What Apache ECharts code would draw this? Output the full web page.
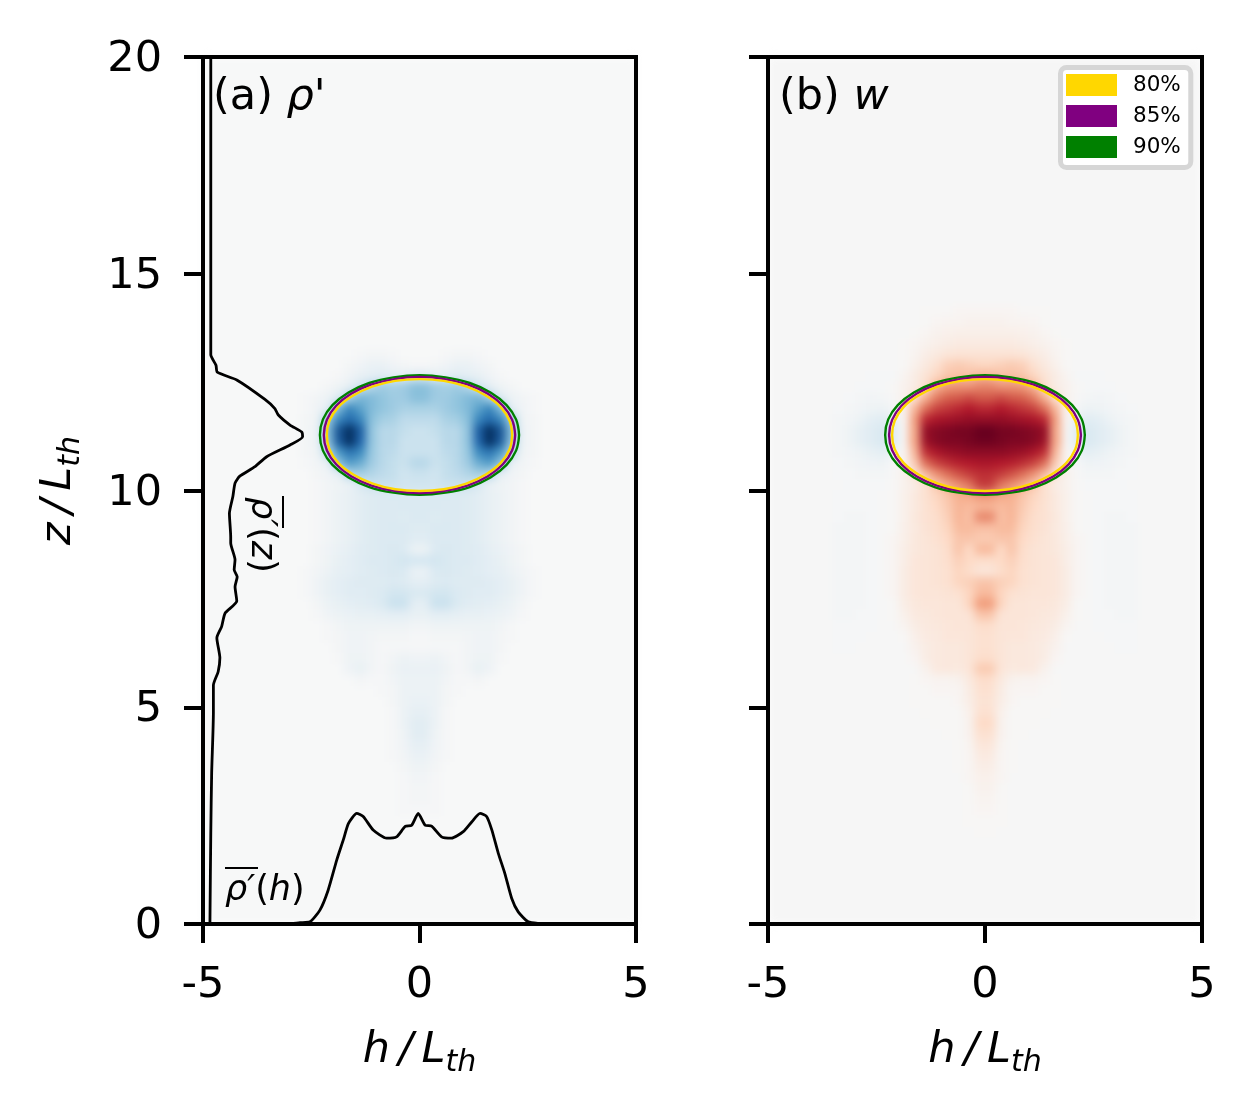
<!DOCTYPE html>
<html>
<head>
<meta charset="utf-8">
<style>html,body{margin:0;padding:0;background:#fff}#main{width:1256px;height:1114px}</style>
<script src="https://cdn.jsdelivr.net/npm/echarts@6/dist/echarts.min.js"></script>
</head>
<body>
<div id="main"></div>
<script>
var colH = [0.125,0.375,0.625,0.875,1.125,1.375,1.625,1.875,2.125,2.375,2.625,2.875,3.125,3.375];

// density: blue strength per row, right half of the plume
var rhoZ = [13.125,12.875,12.625,12.375,12.125,11.875,11.625,11.375,11.125,10.875,10.625,10.375,10.125,
  9.875,9.625,9.375,9.125,8.875,8.625,8.375,8.125,7.875,7.625,7.375,7.125,6.875,6.625,6.375,6.125,5.875,
  5.625,5.375,5.125,4.875,4.625,4.375,4.125,3.875,3.625,3.375,3.125,2.875,2.625];
var rhoRows = [
  [0,0,1,2,2,1,0,0,0,0,0],
  [1,2,4,7,7,4,2,0,0,0,0],
  [14,10,10,12,10,8,4,1,0,0,0],
  [42,36,34,36,30,20,10,5,2,0,0],
  [42,36,36,40,44,46,34,14,6,3,1],
  [32,32,36,40,44,54,66,46,10,4,1],
  [26,26,32,34,42,66,78,66,38,5,2],
  [22,24,28,28,40,82,100,86,44,6,2],
  [22,22,28,28,40,80,100,84,42,6,2],
  [22,22,26,28,38,64,74,58,30,5,2],
  [28,22,24,28,36,50,56,42,8,3,1],
  [22,20,24,26,30,34,30,9,4,2,0],
  [20,20,22,22,22,16,7,5,3,1,0],
  [15,15,15,14,13,11,8,6,3,1,0],
  [15,15,14,14,13,11,8,6,3,1,0],
  [15,13,14,14,13,11,8,6,3,1,0],
  [13,15,15,14,13,11,8,6,3,1,0],
  [12,14,14,14,13,11,8,6,3,1,0],
  [6,14,16,14,13,12,9,7,4,2,0],
  [18,19,16,14,14,12,10,8,5,2,0],
  [7,15,16,14,13,12,10,9,6,3,1],
  [10,13,14,13,13,13,12,10,8,4,1],
  [16,19,19,15,13,12,12,10,8,4,1],
  [10,22,22,15,12,11,10,8,6,2,0],
  [8,10,10,9,8,8,7,6,4,1,0],
  [3,5,5,5,5,5,5,3,1,0,0],
  [1,2,2,2,3,4,4,2,1,0,0],
  [1,1,1,1,3,4,4,2,0,0,0],
  [4,6,3,1,3,5,5,1,0,0,0],
  [7,7,5,1,3,8,4,0,0,0,0],
  [6,6,3,1,1,2,0,0,0,0,0],
  [6,6,2,1,0,0,0,0,0,0,0],
  [7,6,2,0,0,0,0,0,0,0,0],
  [9,6,1,0,0,0,0,0,0,0,0],
  [11,6,1,0,0,0,0,0,0,0,0],
  [11,5,1,0,0,0,0,0,0,0,0],
  [9,4,1,0,0,0,0,0,0,0,0],
  [7,3,1,0,0,0,0,0,0,0,0],
  [5,2,0,0,0,0,0,0,0,0,0],
  [3,1,0,0,0,0,0,0,0,0,0],
  [2,1,0,0,0,0,0,0,0,0,0],
  [2,1,0,0,0,0,0,0,0,0,0],
  [1,1,0,0,0,0,0,0,0,0,0]
];

// vertical velocity: red is up, blue is down
var wZ = [14.125,13.875,13.625,13.375,13.125,12.875,12.625,12.375,12.125,11.875,11.625,11.375,11.125,10.875,10.625,10.375,10.125,
  9.875,9.625,9.375,9.125,8.875,8.625,8.375,8.125,7.875,7.625,7.375,7.125,6.875,6.625,6.375,6.125,5.875,
  5.625,5.375,5.125,4.875,4.625,4.375,4.125,3.875,3.625,3.375,3.125,2.875,2.625,2.375,2.125];
var wRows = [
  [2,2,2,1,1,1,0,0,0,0,0,0,0,0],
  [4,4,3,3,2,1,0,0,0,0,0,0,0,0],
  [6,6,6,5,4,2,1,0,0,0,0,0,0,0],
  [9,9,9,8,6,4,2,1,0,0,0,0,0,0],
  [14,14,14,13,10,7,3,1,0,0,0,0,0,0],
  [22,24,26,24,16,10,5,1,0,0,0,0,0,0],
  [34,30,30,28,22,14,8,3,-1,-1,-1,0,0,0],
  [50,46,46,44,36,18,8,4,1,-1,-1,-1,0,0],
  [62,66,62,60,52,36,16,4,0,-2,-3,-2,-1,0],
  [76,80,76,72,68,56,34,4,-2,-6,-5,-3,-2,-1],
  [88,88,86,84,82,76,42,3,-8,-12,-10,-6,-3,-2],
  [100,96,96,94,92,88,38,0,-12,-16,-12,-9,-5,-2],
  [98,96,94,94,92,86,38,0,-12,-16,-12,-9,-5,-2],
  [90,90,88,86,82,74,34,2,-6,-10,-8,-5,-3,-2],
  [82,80,78,74,68,56,26,3,-1,-5,-4,-3,-2,-1],
  [74,70,64,56,46,32,14,4,0,-2,-2,-2,-1,-1],
  [70,54,46,38,28,16,8,4,1,-1,-1,-1,-1,0],
  [44,38,36,28,22,16,10,5,1,0,-1,-1,-1,-1],
  [34,32,34,26,20,15,10,5,1,0,-1,-1,-1,-1],
  [48,30,34,24,18,15,11,5,1,0,-1,-2,-2,-1],
  [30,32,32,22,17,14,10,6,1,0,-1,-2,-2,-2],
  [26,28,28,20,16,13,11,6,2,0,-1,-2,-2,-2],
  [32,20,28,18,14,13,11,7,2,0,-1,-2,-2,-2],
  [18,20,24,17,14,13,12,7,2,0,-1,-2,-2,-2],
  [12,18,22,16,14,13,12,8,2,0,-1,-2,-2,-2],
  [28,24,22,16,14,13,12,8,2,0,-1,-2,-2,-2],
  [32,22,16,14,13,13,12,8,2,0,-1,-2,-2,-2],
  [42,22,13,13,12,12,11,7,1,0,-1,-2,-2,-2],
  [28,14,13,13,12,11,10,5,1,0,-1,-1,-2,-2],
  [18,13,13,12,11,10,8,3,0,0,-1,-1,-1,-1],
  [16,13,12,12,10,9,6,1,0,0,0,-1,-1,-1],
  [16,13,11,11,10,8,4,0,0,0,0,0,-1,-1],
  [18,13,11,11,10,8,2,0,0,0,0,0,0,0],
  [26,13,10,11,10,4,0,0,0,0,0,0,0,0],
  [18,10,4,3,3,2,1,0,0,0,0,0,0,0],
  [16,8,2,2,2,1,1,0,0,0,0,0,0,0],
  [14,7,2,1,1,1,1,0,0,0,0,0,0,0],
  [16,5,1,1,1,1,0,0,0,0,0,0,0,0],
  [20,4,1,1,1,0,0,0,0,0,0,0,0,0],
  [16,4,1,1,0,0,0,0,0,0,0,0,0,0],
  [12,3,1,0,0,0,0,0,0,0,0,0,0,0],
  [9,2,1,0,0,0,0,0,0,0,0,0,0,0],
  [7,2,1,0,0,0,0,0,0,0,0,0,0,0],
  [5,2,0,0,0,0,0,0,0,0,0,0,0,0],
  [4,1,0,0,0,0,0,0,0,0,0,0,0,0],
  [3,1,0,0,0,0,0,0,0,0,0,0,0,0],
  [2,1,0,0,0,0,0,0,0,0,0,0,0,0],
  [1,1,0,0,0,0,0,0,0,0,0,0,0,0],
  [1,0,0,0,0,0,0,0,0,0,0,0,0,0]
];

// profiles
var profileZ = [[-4.82,20],[-4.82,13.13],[-4.7,12.89],[-4.67,12.73],[-4.22,12.55],[-3.57,12.1],[-3.34,11.89],[-3.26,11.74],[-2.99,11.51],
  [-2.72,11.35],[-2.7,11.24],[-2.99,11.05],[-3.53,10.78],[-3.8,10.55],[-4.15,10.33],[-4.26,10.17],[-4.31,9.86],[-4.39,9.47],
  [-4.36,8.93],[-4.36,8.79],[-4.26,8.4],[-4.28,8.17],[-4.21,8.01],[-4.26,7.78],[-4.22,7.45],[-4.49,7.17],[-4.57,6.86],
  [-4.68,6.6],[-4.61,6.14],[-4.65,5.82],[-4.76,5.51],[-4.76,4.87],[-4.8,3.48],[-4.82,2.1],[-4.84,0]];
var profileH = [[-3,0],[-2.76,0.03],[-2.53,0.05],[-2.3,0.32],[-2.11,0.78],[-1.91,1.48],[-1.76,1.94],[-1.64,2.32],[-1.45,2.55],[-1.3,2.48],
  [-1.07,2.17],[-0.76,1.98],[-0.53,2.01],[-0.33,2.25],[-0.18,2.28],[-0.03,2.55],[0.13,2.28],[0.28,2.26],[0.51,2.01],[0.74,1.98],
  [1.01,2.13],[1.21,2.36],[1.4,2.55],[1.55,2.48],[1.67,2.17],[1.82,1.63],[1.97,1.17],[2.13,0.59],[2.28,0.28],[2.51,0.05],[2.76,0.01],[3,0]];

// bubble outlines, same in both panels
var contour90 = [[2.3,11.28],[2.23,11.64],[2.01,11.97],[1.64,12.26],[1.16,12.48],[0.6,12.61],[0,12.66],[-0.6,12.61],[-1.16,12.48],[-1.64,12.26],[-2.01,11.97],[-2.23,11.64],
  [-2.3,11.28],[-2.23,10.92],[-2.01,10.59],[-1.64,10.3],[-1.16,10.08],[-0.6,9.95],[0,9.9],[0.6,9.95],[1.16,10.08],[1.64,10.3],[2.01,10.59],[2.23,10.92],[2.3,11.28]];
var contour85 = [[2.21,11.28],[2.14,11.63],[1.93,11.95],[1.58,12.23],[1.12,12.44],[0.58,12.57],[0,12.62],[-0.58,12.57],[-1.12,12.44],[-1.58,12.23],[-1.93,11.95],[-2.14,11.63],
  [-2.21,11.28],[-2.14,10.93],[-1.93,10.61],[-1.58,10.33],[-1.12,10.12],[-0.58,9.99],[0,9.94],[0.58,9.99],[1.12,10.12],[1.58,10.33],[1.93,10.61],[2.14,10.93],[2.21,11.28]];
var contour80 = [[2.14,11.28],[2.08,11.61],[1.87,11.93],[1.53,12.19],[1.08,12.4],[0.56,12.53],[0,12.57],[-0.56,12.53],[-1.08,12.4],[-1.53,12.19],[-1.87,11.93],[-2.08,11.61],
  [-2.14,11.28],[-2.08,10.95],[-1.87,10.63],[-1.53,10.37],[-1.08,10.16],[-0.56,10.03],[0,9.99],[0.56,10.03],[1.08,10.16],[1.53,10.37],[1.87,10.63],[2.08,10.95],[2.14,11.28]];

var rdbu = ['#053061','#2166ac','#4393c3','#92c5de','#d1e5f0','#f7f7f7','#fddbc7','#f4a582','#d6604d','#b2182b','#67001f'];
var font = 'DejaVu Sans';

function cells(rows, zs, sign) {
  var out = [];
  rows.forEach(function (row, i) {
    row.forEach(function (v, j) {
      if (v === 0) return;
      out.push([colH[j], zs[i], sign * v]);
      out.push([-colH[j], zs[i], sign * v]);
    });
  });
  return out;
}

function drawCell(params, api) {
  var c = api.coord([api.value(0), api.value(1)]);
  var s = api.size([0.25, 0.25]);
  return {
    type: 'rect',
    shape: {x: c[0] - s[0] / 2 - 0.5, y: c[1] - s[1] / 2 - 0.5, width: s[0] + 1, height: s[1] + 1},
    style: {fill: api.visual('color')}
  };
}

function field(data, idx) {
  return {type: 'custom', xAxisIndex: idx, yAxisIndex: idx, data: data, renderItem: drawCell,
    encode: {x: 0, y: 1}, silent: true, zlevel: 0, clip: true};
}

function outline(name, data, color, idx) {
  return {type: 'line', name: name, xAxisIndex: idx, yAxisIndex: idx, data: data, smooth: 0.4, showSymbol: false, symbol: 'none',
    lineStyle: {color: color, width: 2.4}, itemStyle: {color: color}, silent: true, zlevel: 1};
}

function profile(data) {
  return {type: 'line', xAxisIndex: 0, yAxisIndex: 0, data: data, smooth: 0.2, showSymbol: false, symbol: 'none',
    lineStyle: {color: '#000', width: 2.8}, silent: true, zlevel: 1, clip: true};
}

var thName = {
  i: {fontFamily: font, fontStyle: 'italic', fontSize: 43, color: '#000'},
  s: {fontFamily: font, fontStyle: 'italic', fontSize: 30, color: '#000', padding: [24, 0, 0, 0]}
};

function xAxis(idx) {
  return {type: 'value', gridIndex: idx, min: -5, max: 5, interval: 5, zlevel: 1,
    name: '{i|h\u2009/\u2009L}{s|th}', nameLocation: 'middle', nameGap: 100, nameTextStyle: {rich: thName},
    splitLine: {show: false},
    axisLine: {onZero: false, lineStyle: {color: '#000', width: 4}},
    axisTick: {length: 19, lineStyle: {color: '#000', width: 4}},
    axisLabel: {margin: 40, color: '#000', fontFamily: font, fontSize: 43, showMinLabel: true, showMaxLabel: true}};
}

function yAxis(idx) {
  var hasText = idx === 0;
  return {type: 'value', gridIndex: idx, min: 0, max: 20, interval: 5, zlevel: 1,
    name: hasText ? '{i|z\u2009/\u2009L}{s|th}' : '', nameLocation: 'middle', nameGap: 117, nameRotate: 90, nameTextStyle: {rich: thName},
    splitLine: {show: false},
    axisLine: {onZero: false, lineStyle: {color: '#000', width: 4}},
    axisTick: {length: 19, lineStyle: {color: '#000', width: 4}},
    axisLabel: {show: hasText, margin: 41, verticalAlign: 'top', lineHeight: 6, color: '#000', fontFamily: font, fontSize: 43, showMinLabel: true, showMaxLabel: true}};
}

var italic = {
  i: {fontFamily: font, fontStyle: 'italic', fontSize: 43, color: '#000'},
  n: {fontFamily: font, fontSize: 43, color: '#000'},
  si: {fontFamily: font, fontStyle: 'italic', fontSize: 35, color: '#000'},
  sn: {fontFamily: font, fontSize: 35, color: '#000'}
};

function note(x, y, text, rotation) {
  return {type: 'text', x: x, y: y, rotation: rotation || 0, zlevel: 1, silent: true,
    style: {text: text, rich: italic, verticalAlign: 'middle', align: 'left', fill: '#000'}};
}

function plotBg(x, color) {
  return {type: 'rect', zlevel: 0, z: -10, silent: true, shape: {x: x, y: 57, width: 433, height: 867}, style: {fill: color}};
}

var option = {
  animation: false,
  grid: [
    {left: 203, top: 57, width: 433, height: 867, show: true, borderColor: '#000', borderWidth: 4, backgroundColor: 'transparent', zlevel: 1},
    {left: 768, top: 57, width: 434, height: 867, show: true, borderColor: '#000', borderWidth: 4, backgroundColor: 'transparent', zlevel: 1}
  ],
  xAxis: [xAxis(0), xAxis(1)],
  yAxis: [yAxis(0), yAxis(1)],
  visualMap: {show: false, seriesIndex: [0, 1], dimension: 2, min: -100, max: 100, inRange: {color: rdbu}},
  legend: {
    left: 1060.5, top: 67.5, orient: 'vertical', zlevel: 1,
    data: ['80%', '85%', '90%'], icon: 'rect', itemWidth: 51, itemHeight: 22, itemGap: 9,
    padding: [6.5, 10, 9.5, 5.5], backgroundColor: '#fff', borderColor: '#d6d6d6', borderWidth: 5, borderRadius: 6,
    selectedMode: false, textStyle: {fontFamily: font, fontSize: 21.5, color: '#000', padding: [5, 0, 0, 11]}
  },
  graphic: [
    plotBg(203, '#f7f8f8'), plotBg(768, '#f6f6f6'),
    note(213, 98, '{n|(a) }{i|ρ}{n|\'}'),
    note(779, 98, '{n|(b) }{i|w}'),
    note(225, 891, '{si|ρ′}{sn|(}{si|h}{sn|)}'),
    note(261, 497, '{si|ρ′}{sn|(}{si|z}{sn|)}', -Math.PI / 2),
    {type: 'line', zlevel: 1, silent: true, shape: {x1: 225, y1: 868, x2: 258, y2: 868}, style: {stroke: '#000', lineWidth: 2}},
    {type: 'line', zlevel: 1, silent: true, shape: {x1: 283, y1: 496, x2: 283, y2: 528}, style: {stroke: '#000', lineWidth: 2}}
  ],
  series: [
    field(cells(rhoRows, rhoZ, -1), 0),
    field(cells(wRows, wZ, 1), 1),
    profile(profileZ),
    profile(profileH),
    outline('90%', contour90, '#008000', 0),
    outline('85%', contour85, '#800080', 0),
    outline('80%', contour80, '#ffd700', 0),
    outline('90%', contour90, '#008000', 1),
    outline('85%', contour85, '#800080', 1),
    outline('80%', contour80, '#ffd700', 1)
  ]
};

var chart = echarts.init(document.getElementById('main'), null, {renderer: 'canvas'});
chart.setOption(option);

// soften the coarse cells so the fields read as a smooth image
var base = document.querySelector('canvas[data-zr-dom-id="zr_0"]');
if (base) base.style.filter = 'blur(4px)';
</script>
</body>
</html>
